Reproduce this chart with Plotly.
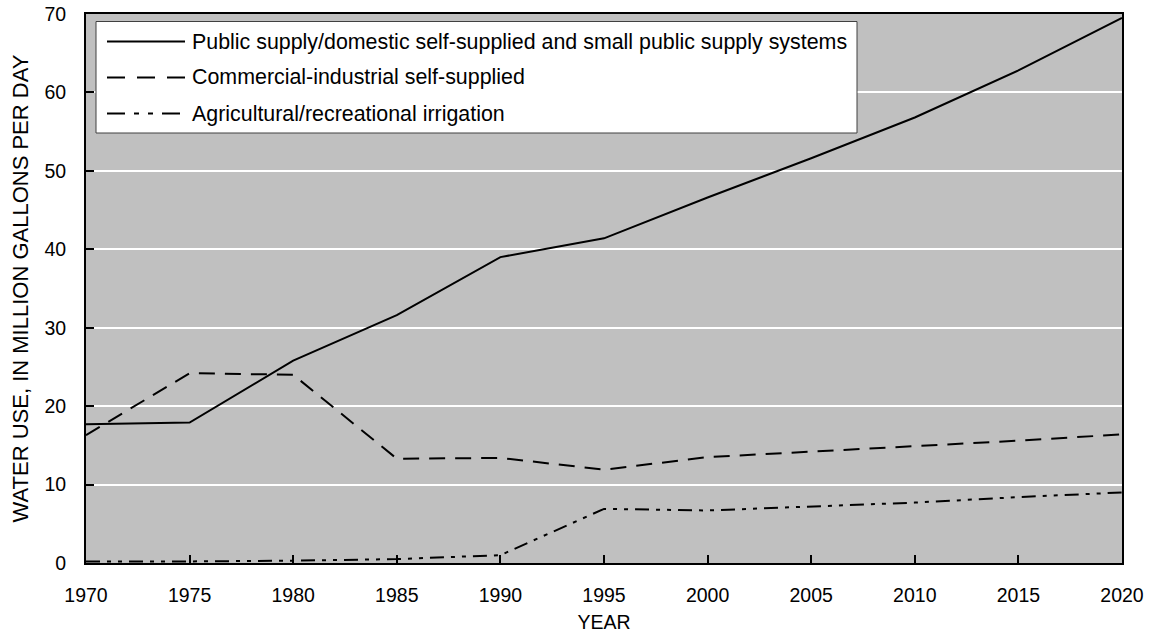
import plotly.graph_objects as go

years = [1970, 1975, 1980, 1985, 1990, 1995, 2000, 2005, 2010, 2015, 2020]
public_supply = [17.7, 17.9, 25.8, 31.6, 39.0, 41.4, 46.6, 51.6, 56.8, 62.8, 69.5]
commercial = [16.3, 24.2, 24.0, 13.3, 13.4, 11.9, 13.5, 14.2, 14.9, 15.6, 16.4]
agricultural = [0.2, 0.2, 0.3, 0.5, 1.0, 6.9, 6.7, 7.2, 7.7, 8.4, 9.0]

series_names = [
    "Public supply/domestic self-supplied and small public supply systems",
    "Commercial-industrial self-supplied",
    "Agricultural/recreational irrigation",
]

FONT = "Liberation Sans, Arial, sans-serif"
plot_dash = ["solid", "16px,10px", "14px,7px,4px,7px,4px,7px"]
legend_dash = ["solid", "18px,12px", "18px,9px,5px,9px,5px,9px"]
series_vals = [public_supply, commercial, agricultural]

fig = go.Figure()
for name, vals, d in zip(series_names, series_vals, plot_dash):
    fig.add_trace(go.Scatter(
        x=years, y=vals, mode="lines", name=name,
        line=dict(color="black", width=2, dash=d),
        showlegend=False, cliponaxis=False,
    ))

FIG_W, FIG_H = 1155, 636
# plot area in pixel coordinates
L, R, T, B = 86, 1122, 14, 563
W, H = R - L, B - T
def px(x):
    return (x - L) / W
def py(y):
    return (B - y) / H

shapes = [dict(type="rect", xref="paper", yref="paper",
               x0=px(96), x1=px(857), y0=py(133), y1=py(21.5),
               fillcolor="white", line=dict(color="#404040", width=1), layer="above")]
annotations = []
rows = [41.5, 77.5, 113.5]
for name, yy, d in zip(series_names, rows, legend_dash):
    shapes.append(dict(type="line", xref="paper", yref="paper",
                       x0=px(107), x1=px(185), y0=py(yy), y1=py(yy),
                       line=dict(color="black", width=2, dash=d), layer="above"))
    annotations.append(dict(xref="paper", yref="paper", x=px(190), y=py(yy),
                            text=name, showarrow=False, xanchor="left", yanchor="middle",
                            font=dict(family=FONT, size=21.4, color="black")))

fig.update_layout(
    width=FIG_W, height=FIG_H,
    margin=dict(l=L, r=FIG_W - R, t=T, b=FIG_H - B, autoexpand=False),
    paper_bgcolor="white", plot_bgcolor="#C0C0C0",
    font=dict(family=FONT, size=19, color="black"),
    shapes=shapes, annotations=annotations,
    showlegend=False,
)
fig.update_xaxes(
    range=[1970, 2020], tick0=1970, dtick=5, showgrid=False,
    showline=True, linecolor="black", linewidth=2, mirror=True,
    ticks="inside", ticklen=8, tickwidth=2, tickcolor="black",
    ticklabelstandoff=14, zeroline=False, automargin=False,
    ticklabeloverflow="allow",
    tickfont=dict(size=19.5),
    title=dict(text="YEAR", font=dict(size=19.5), standoff=10),
)
fig.update_yaxes(
    range=[0, 70], tick0=0, dtick=10, showgrid=True, gridcolor="white", gridwidth=2,
    showline=True, linecolor="black", linewidth=2, mirror=True,
    ticks="inside", ticklen=8, tickwidth=2, tickcolor="black",
    ticklabelstandoff=14, zeroline=False, automargin=False,
    ticklabeloverflow="allow",
    tickfont=dict(size=19.5),
    title=dict(text="WATER USE, IN MILLION GALLONS PER DAY", font=dict(size=22), standoff=10),
)

fig.write_html(
    "out.html",
    config={"displayModeBar": False},
    post_script="document.body.style.margin='0';document.body.style.overflow='hidden';",
)
